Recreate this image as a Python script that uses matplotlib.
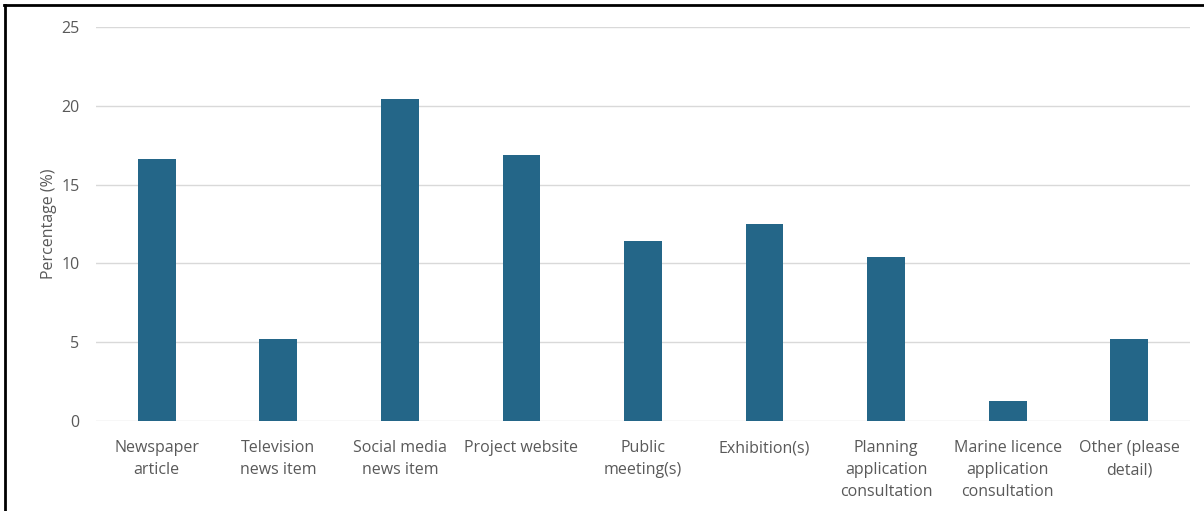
import matplotlib.pyplot as plt
from matplotlib.lines import Line2D

categories = ['Newspaper\narticle', 'Television\nnews item', 'Social media\nnews item',
              'Project website', 'Public\nmeeting(s)', 'Exhibition(s)',
              'Planning\napplication\nconsultation', 'Marine licence\napplication\nconsultation',
              'Other (please\ndetail)']
percent = [16.6, 5.2, 20.4, 16.9, 11.4, 12.5, 10.4, 1.3, 5.2]
yticks = [0, 5, 10, 15, 20, 25]

plt.rcParams['font.family'] = ['Open Sans', 'DejaVu Sans']
grey = '#595959'

fig = plt.figure(figsize=(12.04, 5.11), dpi=100)
ax = fig.add_axes([96 / 1204, 1 - 421 / 511, (1190 - 96) / 1204, (421 - 27) / 511])

x = range(len(categories))
ax.bar(x, percent, width=0.31, color='#246688', zorder=3)

ax.set_xlim(-0.5, len(categories) - 0.5)
ax.set_ylim(0, 25)
ax.set_yticks(yticks)
ax.set_xticks(list(x))
ax.set_xticklabels(categories, fontsize=11.5, color=grey, linespacing=1.5)
ax.tick_params(axis='y', labelsize=11.5, labelcolor=grey, length=0, pad=12)
ax.tick_params(axis='x', length=0, pad=14)
ax.grid(axis='y', color='#d9d9d9', linewidth=1, zorder=0)
for s in ax.spines.values():
    s.set_visible(False)
ax.set_ylabel('Percentage (%)', fontsize=11.5, color=grey, labelpad=3)

# frame of the screenshot (top and left edges only)
fig.add_artist(Line2D([4 / 1204, 1], [1 - 5 / 511, 1 - 5 / 511], color='black', linewidth=2, transform=fig.transFigure))
fig.add_artist(Line2D([5 / 1204, 5 / 1204], [0, 1 - 5 / 511], color='black', linewidth=2, transform=fig.transFigure))

fig.savefig('out.png', dpi=100)
